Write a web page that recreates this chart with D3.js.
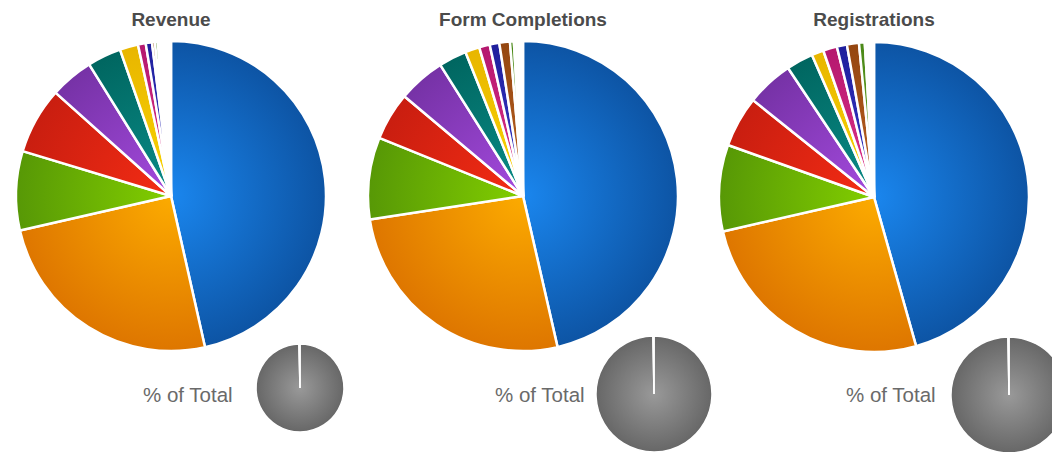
<!DOCTYPE html>
<html>
<head>
<meta charset="utf-8">
<script src="https://d3js.org/d3.v7.min.js"></script>
<style>
  body { margin: 0; background: #fff; }
</style>
</head>
<body>
<script>
  // data (percent of each metric per source)
  const titles = ["Revenue", "Form Completions", "Registrations"];
  const sources = ["S1", "S2", "S3", "S4", "S5", "S6", "S7", "S8", "S9", "S10",
                   "S11", "S12", "S13", "S14", "S15", "S16", "S17", "S18", "S19", "S20"];
  const revenue = [46.2, 24.8, 8.2, 6.9, 4.5, 3.5, 1.9, 0.8, 0.65, 0.3,
                   0.3, 0.15, 0.15, 0.15, 0.15, 0.15, 0.15, 0.15, 0.15, 0.15];
  const formCompletions = [46.3, 26.1, 8.5, 5.0, 4.9, 2.9, 1.5, 1.1, 1.0, 1.1,
                           0.4, 0.12, 0.12, 0.1, 0.1, 0.1, 0.1, 0.1, 0.1, 0.1];
  const registrations = [45.6, 25.8, 9.0, 5.3, 4.9, 2.8, 1.25, 1.45, 1.05, 1.25,
                         0.6, 0.15, 0.1, 0.1, 0.1, 0.1, 0.1, 0.1, 0.1, 0.1];
  // "% of Total" small pies
  const pctOfTotal = [99.6, 99.7, 99.7];

  const series = [revenue, formCompletions, registrations];

  // light (centre) / dark (edge) colour pairs
  const palette = [
    ["#1a86ee", "#0d54a4"], ["#fcab00", "#de7600"], ["#82ce00", "#579806"],
    ["#f42c14", "#c91e10"], ["#a44ade", "#7632a6"], ["#0a8c88", "#006660"],
    ["#fad400", "#e8b600"], ["#e2328c", "#b4186e"], ["#3a3acc", "#1f1f9c"],
    ["#bc6222", "#944610"], ["#6eac2a", "#4a8818"], ["#c4a4e4", "#a080c8"],
    ["#e07070", "#c05050"], ["#40c0d0", "#2090a0"], ["#d0b080", "#b09060"],
    ["#a0d080", "#80b060"], ["#f0a0c0", "#d080a0"], ["#9090f0", "#7070d0"],
    ["#c0c000", "#a0a000"], ["#80a0c0", "#6080a0"]
  ];

  const width = 1052, height = 452;
  const R = 155;

  // layout per panel
  const panels = [
    { cx: 171, cy: 196, sx: 300, sy: 388, sr: 44 },
    { cx: 523, cy: 196, sx: 654, sy: 394, sr: 58 },
    { cx: 874, cy: 197, sx: 1009, sy: 395, sr: 58 }
  ];

  const svg = d3.select("body")
    .append("svg")
    .attr("width", width)
    .attr("height", height);

  const defs = svg.append("defs");

  // radial gradients for the main pies
  palette.forEach((c, i) => {
    const g = defs.append("radialGradient")
      .attr("id", "grad" + i)
      .attr("gradientUnits", "userSpaceOnUse")
      .attr("cx", 0).attr("cy", 0).attr("r", R);
    g.append("stop").attr("offset", "0%").attr("stop-color", c[0]);
    g.append("stop").attr("offset", "100%").attr("stop-color", c[1]);
  });

  const greyGrad = defs.append("radialGradient")
    .attr("id", "greyGrad")
    .attr("cx", "50%").attr("cy", "50%").attr("r", "50%");
  greyGrad.append("stop").attr("offset", "0%").attr("stop-color", "#999999");
  greyGrad.append("stop").attr("offset", "100%").attr("stop-color", "#676767");

  const colour = d3.scaleOrdinal()
    .domain(sources)
    .range(d3.range(sources.length).map(i => "url(#grad" + i + ")"));

  const pie = d3.pie()
    .sort(null)
    .value(d => d.value);

  const arc = d3.arc()
    .innerRadius(0)
    .outerRadius(R);

  panels.forEach((p, k) => {
    const data = sources.map((s, i) => ({ source: s, value: series[k][i] }));

    // title
    svg.append("text")
      .attr("x", p.cx)
      .attr("y", 26)
      .attr("text-anchor", "middle")
      .attr("font-family", "Liberation Sans, Arial, sans-serif")
      .attr("font-weight", 700)
      .attr("font-size", 19)
      .attr("fill", "#4b4b4b")
      .text(titles[k]);

    // main pie
    const g = svg.append("g")
      .attr("transform", `translate(${p.cx}, ${p.cy})`);

    g.selectAll("path")
      .data(pie(data))
      .join("path")
      .attr("d", arc)
      .attr("fill", d => colour(d.data.source))
      .attr("stroke", "#fff")
      .attr("stroke-width", 2.5)
      .attr("stroke-linejoin", "round");

    // "% of Total" label
    svg.append("text")
      .attr("x", p.cx - 28)
      .attr("y", 402)
      .attr("font-family", "Liberation Sans, Arial, sans-serif")
      .attr("font-size", 20.5)
      .attr("fill", "#6a6a6a")
      .text("% of Total");

    // small share pie
    const share = [
      { part: "share", value: pctOfTotal[k] },
      { part: "rest", value: 100 - pctOfTotal[k] }
    ];
    const smallArc = d3.arc().innerRadius(0).outerRadius(p.sr);
    svg.append("g")
      .attr("transform", `translate(${p.sx}, ${p.sy})`)
      .selectAll("path")
      .data(pie(share))
      .join("path")
      .attr("d", smallArc)
      .attr("fill", d => d.data.part === "share" ? "url(#greyGrad)" : "#fff")
      .attr("stroke", "#fff")
      .attr("stroke-width", 1.5);
  });
</script>
</body>
</html>
